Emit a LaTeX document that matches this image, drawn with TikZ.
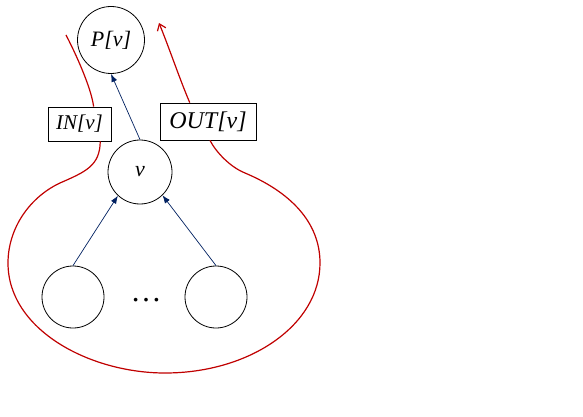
\documentclass[tikz,border=0pt]{standalone}
\usepackage{fontspec}
\setmainfont{Liberation Serif}
\usetikzlibrary{arrows.meta}
\definecolor{redline}{RGB}{192,0,0}
\definecolor{navy}{RGB}{0,32,96}
\tikzset{
  vert/.style={circle,draw=black,line width=0.8pt,inner sep=0pt},
  lab/.style={rectangle,draw=black,line width=0.8pt,inner sep=0pt,font=\itshape},
  tree/.style={draw=navy,line width=0.7pt,-{Latex[length=8pt,width=6pt]}},
  flow/.style={draw=redline,line width=1.2pt},
}
\begin{document}
\begin{tikzpicture}[x=1pt,y=-1pt]
\useasboundingbox (0,0) rectangle (583,417);
\node[vert,minimum size=67pt,font=\fontsize{22}{24}\selectfont\itshape] (p) at (111,40) {P[v]};
\node[vert,minimum size=64pt,font=\fontsize{22}{24}\selectfont\itshape] (v) at (140,172) {v};
\node[vert,minimum size=62pt] (c1) at (73,297) {};
\node[vert,minimum size=62pt] (c2) at (216,297) {};
\node[font=\fontsize{31}{31}\selectfont] (dots) at (146,300) {…};
\node[lab,minimum width=63pt,minimum height=34pt,font=\fontsize{21}{22}\selectfont\itshape] (in) at (79.5,124) {IN[v]};
\node[lab,minimum width=96pt,minimum height=37pt,font=\fontsize{24}{26}\selectfont\itshape] (out) at (208,121.5) {OUT[v]};
\coordinate (instart) at (66,35);
\coordinate (outend) at (159,23);
\draw[tree] (v.north) -- (p.south);
\draw[tree] (c1.north) -- (v.227);
\draw[tree] (c2.north) -- (v.-46);
\draw[flow] (instart) .. controls (80,62) and (92,92) .. (in.51);
\draw[flow] (in.-40) .. controls (100,166) and (85,172) .. (60,183)
  .. controls (30,197) and (8,228) .. (8,263)
  .. controls (8,330) and (90,373) .. (165,373)
  .. controls (250,373) and (320,325) .. (320,263)
  .. controls (320,222) and (290,192) .. (245,173)
  .. controls (230,167) and (216,152) .. (out.-84);
\draw[flow,-{Straight Barb[length=6pt,width=9pt]}] (out.134) .. controls (180,80) and (170,50) .. (outend);
\end{tikzpicture}
\end{document}
